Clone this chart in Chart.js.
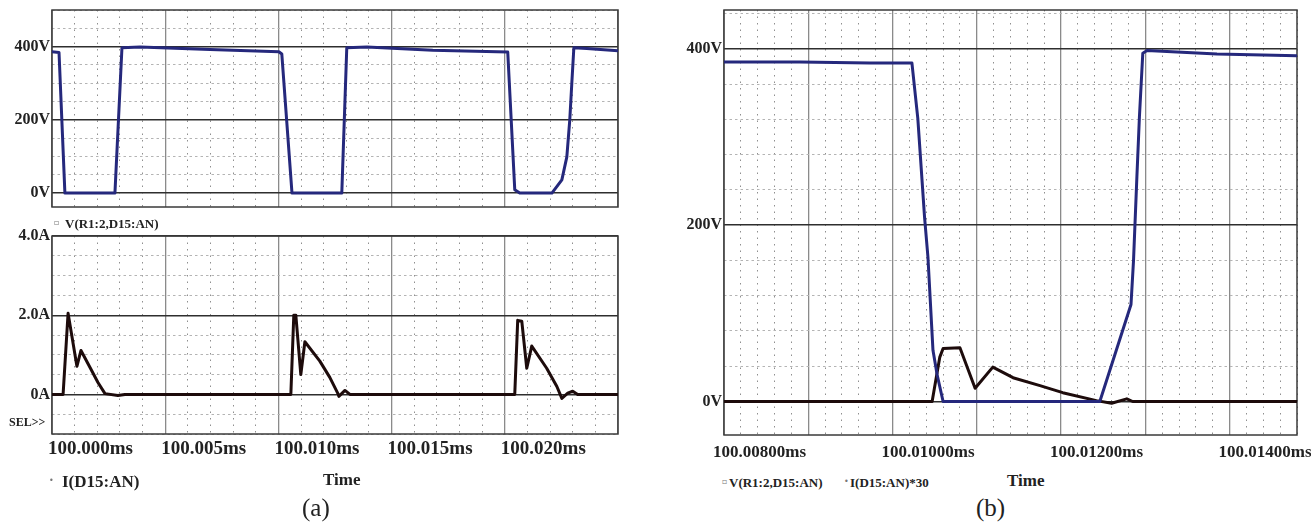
<!DOCTYPE html>
<html>
<head>
<meta charset="utf-8">
<script src="https://cdn.jsdelivr.net/npm/chart.js@4.4.1/dist/chart.umd.min.js"></script>
<style>
  body { margin: 0; background: #fff; width: 1311px; height: 522px; position: relative; overflow: hidden; }
  .box { position: absolute; }
  .t { position: absolute; font-family: 'Liberation Serif', 'Times New Roman', serif; font-weight: bold; color: #222;
       white-space: nowrap; line-height: 1; transform: translateY(-50%); }
  .mk { position: absolute; color: #777; font-family: 'DejaVu Sans', sans-serif; font-size: 8px; line-height: 1; transform: translateY(-50%); }
</style>
</head>
<body>
<div class="box" style="left:0;top:0;width:630px;height:217px"><canvas id="voltA"></canvas></div>
<div class="box" style="left:0;top:226px;width:630px;height:250px"><canvas id="ampA"></canvas></div>
<div class="box" style="left:655px;top:0;width:656px;height:470px"><canvas id="zoomB"></canvas></div>

<span class="mk" style="left:54px;top:223px">&#9643;</span>
<span class="t" style="left:65px;top:223px;font-size:13px">V(R1:2,D15:AN)</span>
<span class="t" style="left:9px;top:422px;font-size:12px">SEL&gt;&gt;</span>
<span class="mk" style="left:49px;top:481px">&#8226;</span>
<span class="t" style="left:62px;top:481px;font-size:17px">I(D15:AN)</span>
<span class="t" style="left:323px;top:479px;font-size:17px">Time</span>
<span class="t" style="left:302px;top:507px;font-size:25px;font-weight:normal">(a)</span>

<span class="mk" style="left:722px;top:482px">&#9643;</span>
<span class="t" style="left:729px;top:482px;font-size:13px">V(R1:2,D15:AN)</span>
<span class="mk" style="left:844px;top:482px">&#8226;</span>
<span class="t" style="left:850px;top:482px;font-size:13px">I(D15:AN)*30</span>
<span class="t" style="left:1007px;top:480px;font-size:17px">Time</span>
<span class="t" style="left:976px;top:507px;font-size:25px;font-weight:normal">(b)</span>

<script>
// (a) haut : V(R1:2,D15:AN), temps en ms
const vTimeA = [100.00000, 100.00031, 100.00057, 100.00278, 100.00309, 100.00389, 100.00698, 100.01002,
  100.01015, 100.01060, 100.01280, 100.01302, 100.01391, 100.01682, 100.02013, 100.02044, 100.02066,
  100.02208, 100.02252, 100.02274, 100.02287, 100.02296, 100.02305, 100.02362, 100.02500];
const vValA = [386, 384, 0, 0, 397, 399, 392, 386, 380, 0, 0, 397, 399, 390, 385, 9, 0,
  0, 36, 99, 200, 300, 397, 395, 389];

// (a) bas : I(D15:AN) en A
const iTimeA = [100.00000, 100.00049, 100.00071, 100.00110, 100.00128, 100.00168, 100.00203, 100.00234,
  100.00291, 100.00322, 100.01055, 100.01068, 100.01077, 100.01099, 100.01117, 100.01183, 100.01227,
  100.01263, 100.01267, 100.01294, 100.01316, 100.02044, 100.02057, 100.02075, 100.02097, 100.02119,
  100.02185, 100.02230, 100.02252, 100.02278, 100.02300, 100.02322, 100.02500];
const iValA = [0, 0, 2.05, 0.71, 1.11, 0.68, 0.30, 0.02,
  -0.03, 0, 0, 2.0, 2.0, 0.5, 1.33, 0.84, 0.43,
  0.02, -0.05, 0.1, 0, 0, 1.87, 1.85, 0.66, 1.22,
  0.66, 0.2, -0.1, 0.03, 0.08, 0, 0];

// (b) zoom : V(R1:2,D15:AN) et I(D15:AN)*30 (lus directement sur l'echelle en V)
const vTimeB = [100.00800, 100.00890, 100.00973, 100.01023, 100.01030, 100.01038, 100.01042, 100.01048,
  100.01053, 100.01060, 100.01246, 100.01283, 100.01286, 100.01290, 100.01293, 100.01297, 100.01302,
  100.01385, 100.01480];
const vValB = [385, 385, 384, 384, 321, 209, 164, 58,
  30, 0, 0, 110, 160, 255, 323, 395, 398,
  394, 392];
const iTimeB = [100.00800, 100.01047, 100.01056, 100.01060, 100.01080, 100.01098, 100.01119, 100.01143,
  100.01175, 100.01202, 100.01242, 100.01260, 100.01278, 100.01285, 100.01480];
const iValB = [0, 0, 50, 60, 61, 15, 39, 27,
  18, 10, 1, -2, 3, 0, 0];

// Graduations
const timeMajorA = [100.000, 100.005, 100.010, 100.015, 100.020, 100.025];
const timeLabelA = ['100.000ms', '100.005ms', '100.010ms', '100.015ms', '100.020ms', ''];
const voltMajorA = [0, 200, 400];
const voltLabelA = ['0V', '200V', '400V'];
const ampMajorA = [0, 2, 4];
const ampLabelA = ['0A', '2.0A', '4.0A'];
const timeMajorB = [100.008, 100.009, 100.010, 100.011, 100.012, 100.013, 100.014];
const timeTickB = [100.008, 100.010, 100.012, 100.014];
const timeLabelB = ['100.00800ms', '100.01000ms', '100.01200ms', '100.01400ms'];
const voltMajorB = [0, 200, 400];
const voltLabelB = ['0V', '200V', '400V'];

const FONT = "'Liberation Serif', 'Times New Roman', serif";
const BLUE = '#25287c';
const DARK = '#1d0b0b';

const near = (a, b) => Math.abs(a - b) < 1e-7;
const isIn = (v, list) => list.some(m => near(m, v));
const pts = (t, v) => t.map((x, i) => ({ x: x, y: v[i] }));

// toutes les positions de grille (mineures + majeures) entre min et max
function stepTicks(min, max, step) {
    const out = [];
    for (let k = Math.ceil(min / step - 1e-6); k * step <= max + step * 1e-6; k++) {
        out.push({ value: +(k * step).toFixed(6) });
    }
    return out;
}

function labelFor(v, ticks, labels) {
    const i = ticks.findIndex(m => near(m, v));
    return i < 0 ? '' : labels[i];
}

function xAxis(o) {
    return {
        type: 'linear', min: o.min, max: o.max,
        afterBuildTicks: s => { s.ticks = stepTicks(o.min, o.max, o.step); },
        afterFit: s => { s.height = o.height; },
        ticks: {
            display: o.show, autoSkip: false, maxRotation: 0, minRotation: 0,
            align: 'start', labelOffset: o.offset, padding: o.pad, color: '#222',
            font: { family: FONT, size: o.size, weight: 'bold', lineHeight: 1.2 },
            callback: v => labelFor(v, o.labelTicks, o.labels)
        },
        grid: {
            drawTicks: false,
            color: c => (c.tick && isIn(c.tick.value, o.majors)) ? '#8a8a8a' : '#8f8f8f',
            lineWidth: c => (c.tick && isIn(c.tick.value, o.majors)) ? 1.3 : 1
        },
        border: {
            display: false,
            dash: c => (c.tick && !isIn(c.tick.value, o.majors)) ? [1.5, 5] : []
        }
    };
}

function yAxis(o) {
    return {
        type: 'linear', min: o.min, max: o.max,
        afterBuildTicks: s => { s.ticks = stepTicks(o.min, o.max, o.step); },
        afterFit: s => { s.width = o.width; },
        ticks: {
            autoSkip: false, padding: 2, color: '#222',
            font: { family: FONT, size: 16, weight: 'bold', lineHeight: 1 },
            callback: v => labelFor(v, o.majors, o.labels)
        },
        grid: {
            drawTicks: false,
            color: c => (c.tick && isIn(c.tick.value, o.majors)) ? '#2e2e2e' : '#b4b4b4',
            lineWidth: c => (c.tick && isIn(c.tick.value, o.majors)) ? 1.4 : 1
        },
        border: {
            display: false,
            dash: c => (c.tick && !isIn(c.tick.value, o.majors)) ? [2.5, 3] : []
        }
    };
}

// cadre du trace (style PSpice)
const frame = {
    id: 'frame',
    beforeDatasetsDraw(chart) {
        const { ctx, chartArea: a } = chart;
        ctx.save();
        ctx.strokeStyle = '#3a3a3a';
        ctx.lineWidth = 1.5;
        ctx.strokeRect(a.left, a.top, a.right - a.left, a.bottom - a.top);
        ctx.restore();
    }
};

function line(data, color) {
    return { data: data, borderColor: color, borderWidth: 3, pointRadius: 0, tension: 0,
             fill: false, borderJoinStyle: 'round', borderCapStyle: 'round' };
}

function makeChart(id, datasets, scales, padding) {
    return new Chart(document.getElementById(id).getContext('2d'), {
        type: 'line',
        data: { datasets: datasets },
        options: {
            responsive: true, maintainAspectRatio: false, animation: false, events: [],
            layout: { padding: padding },
            plugins: { legend: { display: false }, tooltip: { enabled: false } },
            scales: scales
        },
        plugins: [frame]
    });
}

makeChart('voltA', [line(pts(vTimeA, vValA), BLUE)], {
    x: xAxis({ min: 100.000, max: 100.025, step: 0.001, majors: timeMajorA, labelTicks: timeMajorA,
               labels: timeLabelA, show: false, offset: 0, pad: 0, size: 19, height: 10 }),
    y: yAxis({ min: -38, max: 500, step: 50, majors: voltMajorA, labels: voltLabelA, width: 52 })
}, { top: 10, right: 12, left: 0, bottom: 0 });

makeChart('ampA', [line(pts(iTimeA, iValA), DARK)], {
    x: xAxis({ min: 100.000, max: 100.025, step: 0.001, majors: timeMajorA, labelTicks: timeMajorA,
               labels: timeLabelA, show: true, offset: -4, pad: 4, size: 19, height: 42 }),
    y: yAxis({ min: -1, max: 4, step: 0.5, majors: ampMajorA, labels: ampLabelA, width: 52 })
}, { top: 10, right: 12, left: 0, bottom: 0 });

makeChart('zoomB', [line(pts(vTimeB, vValB), BLUE), line(pts(iTimeB, iValB), DARK)], {
    x: xAxis({ min: 100.008, max: 100.0148, step: 0.0002, majors: timeMajorB, labelTicks: timeTickB,
               labels: timeLabelB, show: true, offset: -11, pad: 7, size: 17, height: 35 }),
    y: yAxis({ min: -38, max: 444, step: 40, majors: voltMajorB, labels: voltLabelB, width: 69 })
}, { top: 10, right: 14, left: 0, bottom: 0 });
</script>
</body>
</html>
